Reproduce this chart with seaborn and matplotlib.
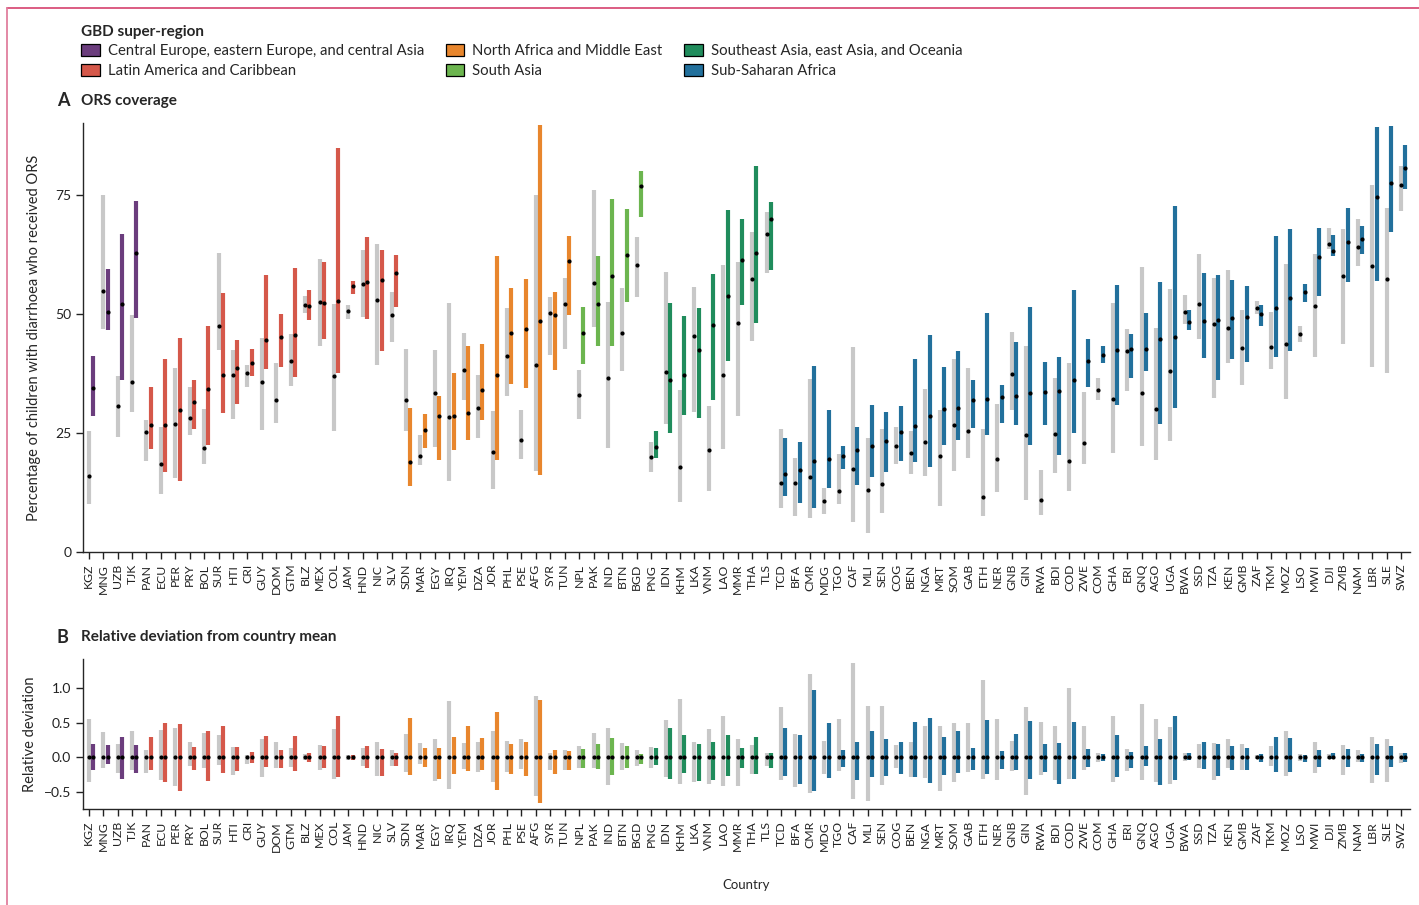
import numpy as np
import pandas as pd
import matplotlib
matplotlib.use('Agg')
import matplotlib.pyplot as plt
import seaborn as sns
from matplotlib.patches import Patch
from matplotlib.lines import Line2D

# ---- data ----
countries = ['KGZ', 'MNG', 'UZB', 'TJK',
             'PAN', 'ECU', 'PER', 'PRY', 'BOL', 'SUR', 'HTI', 'CRI', 'GUY', 'DOM', 'GTM', 'BLZ', 'MEX', 'COL',
             'JAM', 'HND', 'NIC', 'SLV',
             'SDN', 'MAR', 'EGY', 'IRQ', 'YEM', 'DZA', 'JOR', 'PHL', 'PSE', 'AFG', 'SYR', 'TUN',
             'NPL', 'PAK', 'IND', 'BTN', 'BGD',
             'PNG', 'IDN', 'KHM', 'LKA', 'VNM', 'LAO', 'MMR', 'THA', 'TLS',
             'TCD', 'BFA', 'CMR', 'MDG', 'TGO', 'CAF', 'MLI', 'SEN', 'COG', 'BEN', 'NGA', 'MRT', 'SOM', 'GAB',
             'ETH', 'NER', 'GNB', 'GIN', 'RWA', 'BDI', 'COD', 'ZWE', 'COM', 'GHA', 'ERI', 'GNQ', 'AGO', 'UGA',
             'BWA', 'SSD', 'TZA', 'KEN', 'GMB', 'ZAF', 'TKM', 'MOZ', 'LSO', 'MWI', 'DJI', 'ZMB', 'NAM', 'LBR',
             'SLE', 'SWZ']

region_names = ['Central Europe, eastern Europe, and central Asia',
                'Latin America and Caribbean',
                'North Africa and Middle East',
                'South Asia',
                'Southeast Asia, east Asia, and Oceania',
                'Sub-Saharan Africa']
region_counts = [4, 18, 12, 5, 9, 44]
region_colors = ['#6b3d7d', '#d5584a', '#e8862d', '#6cb54f', '#208c5c', '#22709c']

# panel A: grey series (low, point, high)
gray_lo = [10.0, 46.7, 24.2, 29.4,
           19.2, 12.2, 15.5, 24.6, 18.5, 42.4, 28.0, 34.6, 25.6, 27.1, 34.8, 50.1, 43.2, 25.4, 48.9, 49.4, 39.3, 44.1,
           25.3, 18.2, 22.0, 14.9, 32.0, 23.9, 13.2, 32.8, 19.5, 17.1, 41.4, 42.6,
           28.0, 47.3, 21.8, 38.0, 53.5,
           16.8, 26.8, 10.6, 29.4, 12.9, 21.6, 28.5, 44.2, 58.6,
           9.3, 7.6, 7.2, 8.0, 10.1, 6.3, 4.1, 8.1, 18.5, 16.3, 16.0, 9.6, 17.0, 19.8, 7.5, 12.6, 29.8, 10.9,
           7.7, 16.5, 12.8, 18.4, 32.0, 20.8, 33.8, 22.2, 19.4, 23.2, 47.8, 44.6, 32.3, 39.7, 35.1, 49.9, 38.4,
           32.1, 44.0, 41.0, 63.5, 43.7, 60.0, 38.9, 37.5, 71.5]
gray_mid = [16.0, 54.8, 30.6, 35.7,
            25.1, 18.5, 26.9, 28.1, 21.9, 47.4, 37.1, 37.6, 35.6, 32.0, 40.1, 51.8, 52.4, 36.9, 50.6, 56.2, 52.9, 49.7,
            31.8, 20.2, 33.4, 28.3, 38.1, 30.3, 21.0, 41.2, 23.6, 39.2, 50.1, 52.0,
            32.9, 56.4, 36.5, 46.0, 60.3,
            19.9, 37.8, 17.9, 45.3, 21.4, 37.2, 48.1, 57.2, 66.7,
            14.4, 14.4, 15.8, 10.8, 12.8, 17.4, 13.1, 14.2, 22.2, 20.7, 23.1, 20.1, 26.7, 25.3, 11.5, 19.5, 37.4,
            24.5, 11.0, 24.8, 19.1, 22.9, 34.0, 32.1, 42.1, 33.4, 30.1, 37.9, 50.3, 52.1, 47.8, 47.0, 42.8, 51.3,
            43.0, 43.6, 45.7, 51.7, 64.7, 57.9, 64.0, 60.1, 57.2, 77.0]
gray_hi = [25.3, 74.9, 37.0, 49.7,
           27.8, 26.3, 38.6, 34.7, 30.1, 62.7, 42.4, 39.2, 44.9, 39.6, 45.7, 53.8, 61.4, 52.1, 51.9, 63.4, 64.7, 54.5,
           42.7, 24.6, 42.4, 52.2, 46.0, 37.2, 29.6, 51.2, 29.8, 75.0, 53.5, 57.5,
           38.1, 75.9, 52.5, 55.4, 66.2,
           23.1, 58.8, 34.1, 55.7, 30.6, 60.3, 60.8, 67.2, 71.3,
           25.8, 19.7, 36.3, 13.5, 20.6, 43.0, 23.9, 25.9, 26.3, 25.5, 34.2, 29.7, 40.4, 38.6, 25.9, 31.1, 46.2,
           43.2, 17.3, 36.5, 39.7, 33.6, 36.5, 52.2, 46.9, 59.9, 47.1, 55.2, 53.9, 62.5, 57.6, 59.1, 50.8, 52.6,
           50.3, 60.5, 47.4, 62.6, 67.9, 67.7, 69.8, 77.1, 72.1, 80.9]

# panel A: coloured series (low, point, high)
col_lo = [28.5, 46.5, 36.0, 49.1,
          21.6, 16.8, 15.0, 25.8, 22.4, 29.2, 31.1, 36.9, 38.5, 38.8, 36.7, 48.7, 44.7, 37.6, 54.2, 48.8, 42.1, 51.5,
          13.9, 21.9, 19.4, 21.5, 23.5, 27.8, 19.4, 35.2, 34.5, 16.2, 38.2, 49.7,
          39.4, 43.2, 43.3, 52.4, 70.2,
          19.8, 24.9, 28.8, 28.1, 31.9, 40.0, 51.9, 48.1, 59.1,
          11.8, 10.3, 9.2, 13.4, 17.5, 14.1, 15.7, 16.7, 19.0, 18.9, 17.9, 22.5, 23.6, 26.1, 24.5, 27.1, 26.6,
          22.5, 26.6, 20.4, 25.0, 34.6, 39.7, 30.8, 36.5, 37.9, 26.9, 30.3, 46.5, 40.7, 36.0, 40.6, 39.9, 47.4,
          41.0, 42.2, 52.4, 53.7, 62.1, 56.6, 62.6, 56.8, 67.2, 76.2]
col_mid = [34.4, 50.3, 52.0, 62.8,
           26.6, 26.7, 29.9, 31.5, 34.3, 37.1, 38.6, 39.7, 44.4, 45.1, 45.5, 51.7, 52.2, 52.6, 55.8, 56.7, 57.0, 58.5,
           18.9, 25.6, 28.6, 28.6, 29.1, 34.0, 37.2, 46.0, 46.7, 48.4, 49.7, 61.0,
           46.0, 52.0, 57.9, 62.3, 76.8,
           22.1, 36.2, 37.2, 42.4, 47.6, 53.7, 61.3, 62.8, 69.8,
           16.4, 17.2, 19.0, 19.6, 20.2, 21.4, 22.2, 23.2, 25.1, 26.5, 28.5, 30.1, 30.3, 31.9, 32.1, 32.6, 32.8,
           33.3, 33.5, 33.8, 36.1, 40.1, 41.4, 42.4, 42.7, 42.7, 44.6, 45.2, 48.2, 48.5, 48.6, 49.1, 49.3, 50.0,
           51.3, 53.2, 54.6, 62.0, 63.2, 65.1, 65.7, 74.4, 77.4, 80.5]
col_hi = [41.2, 59.4, 66.8, 73.6,
          34.7, 40.5, 45.0, 36.2, 47.5, 54.4, 44.4, 42.5, 58.1, 49.9, 59.5, 54.9, 60.8, 84.7, 56.8, 66.2, 63.3, 62.3,
          30.3, 29.0, 32.8, 37.6, 43.2, 43.7, 62.1, 55.4, 57.3, 89.5, 54.5, 66.4,
          51.4, 62.1, 74.1, 72.0, 80.0,
          25.3, 52.3, 49.5, 51.1, 58.3, 71.7, 69.9, 81.1, 73.4,
          23.9, 23.1, 39.0, 29.9, 22.3, 26.3, 30.8, 29.4, 30.6, 40.4, 45.5, 38.9, 42.1, 36.1, 50.1, 35.1, 44.0,
          51.5, 39.8, 41.0, 55.0, 44.6, 43.2, 56.1, 45.7, 50.1, 56.6, 72.5, 50.7, 58.6, 58.2, 57.0, 55.8, 51.8,
          66.4, 67.8, 56.3, 67.9, 66.6, 72.2, 68.4, 89.1, 89.4, 85.4]

# panel B: relative deviation ranges
dev_gray_lo = [-0.36, -0.15, -0.22, -0.19,
               -0.23, -0.33, -0.41, -0.12, -0.16, -0.11, -0.25, -0.09, -0.29, -0.15, -0.14, -0.04, -0.18, -0.32,
               -0.04, -0.13, -0.27, -0.12,
               -0.21, -0.10, -0.34, -0.46, -0.17, -0.21, -0.36, -0.21, -0.17, -0.56, -0.18, -0.18,
               -0.15, -0.16, -0.40, -0.18, -0.12,
               -0.15, -0.29, -0.39, -0.35, -0.38, -0.42, -0.41, -0.24, -0.13,
               -0.33, -0.43, -0.51, -0.24, -0.20, -0.60, -0.63, -0.40, -0.16, -0.29, -0.30, -0.49, -0.35, -0.21,
               -0.31, -0.33, -0.20, -0.54, -0.26, -0.33, -0.31, -0.19, -0.07, -0.35, -0.20, -0.33, -0.35, -0.38,
               -0.05, -0.15, -0.33, -0.16, -0.18, -0.03, -0.12, -0.27, -0.05, -0.22, -0.03, -0.26, -0.07, -0.37,
               -0.35, -0.08]
dev_gray_hi = [0.55, 0.37, 0.20, 0.39,
               0.11, 0.40, 0.43, 0.23, 0.35, 0.32, 0.15, 0.04, 0.27, 0.23, 0.14, 0.05, 0.18, 0.41, 0.03, 0.14,
               0.22, 0.10,
               0.34, 0.21, 0.27, 0.82, 0.21, 0.23, 0.39, 0.24, 0.26, 0.89, 0.07, 0.11,
               0.16, 0.35, 0.43, 0.21, 0.11,
               0.15, 0.54, 0.84, 0.23, 0.41, 0.60, 0.27, 0.18, 0.07,
               0.73, 0.34, 1.21, 0.24, 0.55, 1.37, 0.75, 0.75, 0.18, 0.22, 0.46, 0.46, 0.50, 0.50, 1.13, 0.56,
               0.24, 0.73, 0.51, 0.45, 1.01, 0.45, 0.07, 0.60, 0.12, 0.77, 0.55, 0.44, 0.07, 0.20, 0.21, 0.26,
               0.19, 0.03, 0.17, 0.39, 0.05, 0.22, 0.05, 0.18, 0.10, 0.29, 0.27, 0.06]
dev_col_lo = [-0.18, -0.09, -0.31, -0.23,
              -0.19, -0.36, -0.49, -0.18, -0.34, -0.22, -0.20, -0.08, -0.14, -0.15, -0.20, -0.07, -0.15, -0.29,
              -0.04, -0.15, -0.27, -0.13,
              -0.26, -0.14, -0.32, -0.24, -0.20, -0.19, -0.47, -0.24, -0.27, -0.66, -0.24, -0.19,
              -0.15, -0.17, -0.26, -0.16, -0.09,
              -0.11, -0.31, -0.23, -0.34, -0.33, -0.27, -0.16, -0.24, -0.16,
              -0.27, -0.38, -0.49, -0.30, -0.14, -0.33, -0.28, -0.27, -0.24, -0.28, -0.37, -0.25, -0.22, -0.18,
              -0.24, -0.17, -0.19, -0.32, -0.21, -0.39, -0.31, -0.14, -0.05, -0.28, -0.15, -0.12, -0.40, -0.33,
              -0.04, -0.17, -0.27, -0.18, -0.19, -0.07, -0.21, -0.21, -0.06, -0.14, -0.02, -0.14, -0.06, -0.25,
              -0.14, -0.07]
dev_col_hi = [0.19, 0.18, 0.29, 0.18,
              0.30, 0.50, 0.49, 0.15, 0.38, 0.46, 0.15, 0.08, 0.31, 0.11, 0.31, 0.06, 0.17, 0.60, 0.03, 0.17,
              0.12, 0.07,
              0.57, 0.14, 0.14, 0.30, 0.46, 0.28, 0.66, 0.20, 0.23, 0.83, 0.10, 0.09,
              0.12, 0.20, 0.28, 0.16, 0.05,
              0.14, 0.43, 0.32, 0.20, 0.22, 0.33, 0.14, 0.29, 0.06,
              0.43, 0.32, 0.98, 0.50, 0.10, 0.22, 0.38, 0.27, 0.22, 0.51, 0.57, 0.29, 0.38, 0.14, 0.54, 0.09,
              0.34, 0.53, 0.19, 0.21, 0.51, 0.12, 0.05, 0.32, 0.08, 0.17, 0.27, 0.60, 0.06, 0.22, 0.20, 0.16,
              0.14, 0.05, 0.29, 0.28, 0.04, 0.11, 0.06, 0.12, 0.05, 0.20, 0.16, 0.07]

GRAY = '#c8c8c8'

sns.set_style('ticks')
plt.rcParams['font.family'] = ['Lato', 'DejaVu Sans']
plt.rcParams['axes.linewidth'] = 1.0

region = []
for name, n in zip(region_names, region_counts):
    region += [name] * n
df = pd.DataFrame({'country': countries, 'region': region,
                   'gray_lo': gray_lo, 'gray_mid': gray_mid, 'gray_hi': gray_hi,
                   'col_lo': col_lo, 'col_mid': col_mid, 'col_hi': col_hi,
                   'dg_lo': dev_gray_lo, 'dg_hi': dev_gray_hi,
                   'dc_lo': dev_col_lo, 'dc_hi': dev_col_hi})
df['x'] = np.arange(len(df))
df['xc'] = df['x'] + 0.3
df['zero'] = 0.0
palette = dict(zip(region_names, region_colors))
df['color'] = df['region'].map(palette)

fig = plt.figure(figsize=(14.19, 9.05), dpi=100)
axA = fig.add_axes([0.0585, 0.390, 0.935, 0.474])
axB = fig.add_axes([0.0585, 0.106, 0.935, 0.166])

LW = 3.0
DOT = 9
# panel A
axA.vlines(df['x'], df['gray_lo'], df['gray_hi'], color=GRAY, lw=LW)
axA.vlines(df['xc'], df['col_lo'], df['col_hi'], color=df['color'], lw=LW)
sns.scatterplot(data=df, x='x', y='gray_mid', color='black', s=DOT, linewidth=0, ax=axA, zorder=3)
sns.scatterplot(data=df, x='xc', y='col_mid', color='black', s=DOT, linewidth=0, ax=axA, zorder=3)
axA.set_ylim(0, 90)
axA.set_yticks([0, 25, 50, 75])
axA.set_ylabel('Percentage of children with diarrhoea who received ORS', fontsize=10.5, labelpad=10)
axA.set_xlabel('')

# panel B
axB.vlines(df['x'], df['dg_lo'], df['dg_hi'], color=GRAY, lw=LW)
axB.vlines(df['xc'], df['dc_lo'], df['dc_hi'], color=df['color'], lw=LW)
sns.scatterplot(data=df, x='x', y='zero', color='black', s=DOT, linewidth=0, ax=axB, zorder=3)
sns.scatterplot(data=df, x='xc', y='zero', color='black', s=DOT, linewidth=0, ax=axB, zorder=3)
axB.set_ylim(-0.75, 1.43)
axB.set_yticks([1.0, 0.5, 0.0, -0.5])
axB.set_yticklabels(['1.0', '0.5', '0.0', '\u22120.5'])
axB.set_ylabel('Relative deviation', fontsize=10.5, labelpad=5)
axB.set_xlabel('Country', fontsize=9.5, labelpad=20)

for ax in (axA, axB):
    ax.set_xlim(-0.4, 91.6)
    ax.set_xticks(df['x'])
    ax.set_xticklabels(df['country'], rotation=90, fontsize=8.8)
    ax.tick_params(axis='both', length=5, width=1.0, color='#222222', labelcolor='#222222')
    ax.tick_params(axis='y', labelsize=10)
    sns.despine(ax=ax)

# panel headers
fig.text(57 / 1419, 1 - 101 / 905, 'A', fontsize=13, fontweight='bold', va='center', ha='left')
fig.text(81 / 1419, 1 - 101 / 905, 'ORS coverage', fontsize=11, fontweight='bold', va='center', ha='left')
fig.text(57 / 1419, 1 - 637 / 905, 'B', fontsize=13, fontweight='bold', va='center', ha='left')
fig.text(81 / 1419, 1 - 637 / 905, 'Relative deviation from country mean', fontsize=11,
         fontweight='bold', va='center', ha='left')

# legend
handles = [Patch(facecolor=c, edgecolor='black', linewidth=0.9, label=n)
           for n, c in zip(region_names, region_colors)]
leg = fig.legend(handles=handles, loc='upper left', bbox_to_anchor=(75 / 1419, 1 - 19 / 905),
                 ncol=3, frameon=False, fontsize=10.7, title='GBD super-region',
                 title_fontproperties={'weight': 'bold', 'size': 11}, alignment='left',
                 handlelength=1.25, handleheight=0.85, handletextpad=0.55, columnspacing=1.45,
                 labelspacing=0.36, borderaxespad=0)

# pink frame (top and left)
fig.add_artist(Line2D([7 / 1419, 1], [1 - 8 / 905, 1 - 8 / 905], color='#d94f78', lw=1.3,
                      transform=fig.transFigure))
fig.add_artist(Line2D([7 / 1419, 7 / 1419], [0, 1 - 8 / 905], color='#e07f9e', lw=1.3,
                      transform=fig.transFigure))

fig.savefig('out.png', dpi=100)
